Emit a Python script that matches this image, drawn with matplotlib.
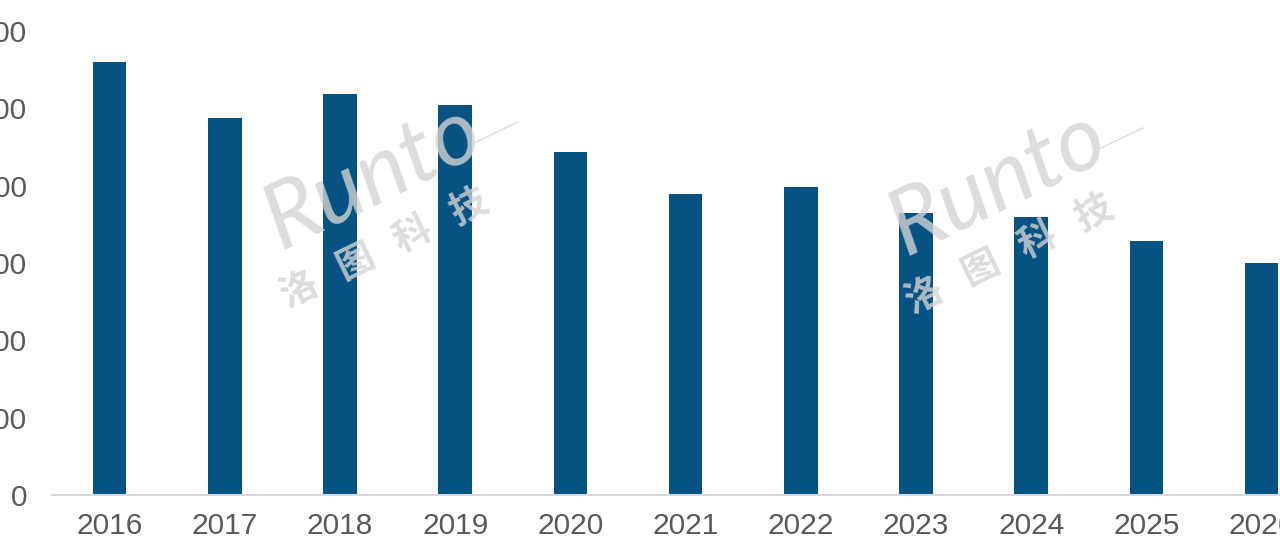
import matplotlib.pyplot as plt
import numpy as np

years = ['2016', '2017', '2018', '2019', '2020', '2021',
         '2022', '2023', '2024', '2025', '2026']
volume = [5600, 4875, 5190, 5045, 4435, 3890, 3985, 3645, 3595, 3285, 3000]
y_ticks = [0, 1000, 2000, 3000, 4000, 5000, 6000]

bar_color = '#065283'
text_color = '#595959'
mark_color = '#d4d4d4'

fig = plt.figure(figsize=(12.8, 5.45), dpi=100)
# axes runs past the right edge on purpose, the source image is cropped
ax = fig.add_axes([52 / 1280, 50 / 545, 11 * 115.2 / 1280, 464 / 545])

x = np.arange(len(years))
ax.bar(x, volume, width=0.29, color=bar_color, zorder=2)

ax.set_xlim(-0.5, len(years) - 0.5)
ax.set_ylim(0, 6000)
ax.set_xticks(x)
ax.set_xticklabels(years)
ax.set_yticks(y_ticks)
ax.set_yticklabels([str(v) for v in y_ticks])

for lab in ax.get_xticklabels() + ax.get_yticklabels():
    lab.set_fontfamily('Liberation Sans')
    lab.set_fontsize(21.5)
    lab.set_color(text_color)

ax.tick_params(axis='x', length=0, pad=12)
ax.tick_params(axis='y', length=0, pad=18)

for s in ['top', 'right', 'left']:
    ax.spines[s].set_visible(False)
ax.spines['bottom'].set_color('#d9d9d9')
ax.spines['bottom'].set_linewidth(1.5)


# Runto watermark, two copies
def watermark(px, py):
    fig.text(px / 1280, 1 - py / 545, 'Runto', fontfamily='Lato', fontsize=66,
             fontstyle='italic', fontweight='normal', color=mark_color, alpha=0.8,
             rotation=26, rotation_mode='anchor', ha='left', va='baseline', zorder=5)
    fig.text((px + 8) / 1280, 1 - (py + 58) / 545, '洛   图   科   技',
             fontfamily=['Noto Sans CJK SC', 'DejaVu Sans'], fontsize=27,
             fontweight='bold', color=mark_color, alpha=0.8,
             rotation=26, rotation_mode='anchor', ha='left', va='baseline', zorder=5)
    # thin swoosh off the "o"
    fig.add_artist(plt.Line2D([(px + 196) / 1280, (px + 238) / 1280],
                              [1 - (py - 108) / 545, 1 - (py - 128) / 545],
                              color=mark_color, lw=1, alpha=0.8, zorder=5))


watermark(280, 250)
watermark(905, 256)

fig.savefig('out.png', dpi=100)
